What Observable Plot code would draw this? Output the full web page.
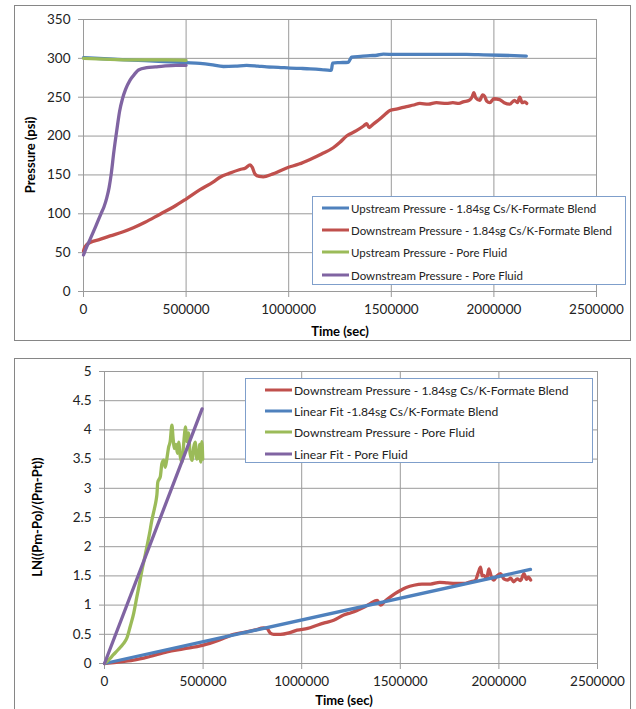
<!DOCTYPE html>
<html><head><meta charset="utf-8">
<script src="https://cdn.jsdelivr.net/npm/d3@7"></script>
<script src="https://cdn.jsdelivr.net/npm/@observablehq/plot@0.6"></script>
<style>
body{margin:0;background:#fff;font-family:Lato,"Open Sans",sans-serif;}
#wrap{position:relative;width:636px;height:709px;overflow:hidden;background:#fff}
.box{position:absolute;border:1px solid #868686;box-sizing:border-box;background:#fff}
.chart{position:absolute;}
.title{position:absolute;font-weight:bold;font-size:13px;color:#000;white-space:nowrap;transform:translate(-50%,-50%);}
.rot{transform:translate(-50%,-50%) rotate(-90deg);}
.legend{position:absolute;border:1px solid #7f9fcb;background:#fff;box-sizing:border-box}
.row{position:absolute;display:flex;align-items:center;white-space:nowrap;color:#222;transform:translateY(-50%)}
.sw{display:inline-block;width:27px;height:3px;margin-right:2px}
</style>
</head><body>
<div id="wrap">
  <div class="box" style="left:14px;top:5px;width:617px;height:336px"></div>
  <div class="box" style="left:14px;top:358px;width:617px;height:360px"></div>
  <div id="c1" class="chart" style="left:14px;top:5px"></div>
  <div id="c2" class="chart" style="left:14px;top:358px"></div>
  <div class="title" style="left:340px;top:331px">Time (sec)</div>
  <div class="title rot" style="left:30px;top:155px">Pressure (psi)</div>
  <div class="title" style="left:344px;top:700px">Time (sec)</div>
  <div class="title rot" style="left:37px;top:517px">LN((Pm-Po)/(Pm-Pt))</div>
  <div id="leg1" class="legend" style="left:312px;top:196px;width:314px;height:89px"></div>
  <div id="leg2" class="legend" style="left:245px;top:378px;width:348px;height:85px"></div>
</div>
<script>
// ---------- data: shared ticks ----------
const xTicks = [0, 500000, 1000000, 1500000, 2000000, 2500000];
const yTicksTop = [0, 50, 100, 150, 200, 250, 300, 350];
const yTicksBottom = [0, 0.5, 1, 1.5, 2, 2.5, 3, 3.5, 4, 4.5, 5];

const topNames = ["Upstream Pressure - 1.84sg Cs/K-Formate Blend","Downstream Pressure - 1.84sg Cs/K-Formate Blend","Upstream Pressure - Pore Fluid","Downstream Pressure - Pore Fluid"];
const bottomNames = ["Downstream Pressure - 1.84sg Cs/K-Formate Blend","Linear Fit -1.84sg Cs/K-Formate Blend","Downstream Pressure - Pore Fluid","Linear Fit - Pore Fluid"];
const topColors = ["#4F81BD","#C0504D","#9BBB59","#8064A2"];
const bottomColors = ["#C0504D","#4F81BD","#9BBB59","#8064A2"];

// ---------- data: top chart (time sec, pressure psi) ----------
const upstreamBlend = [[0,301],[100000,299.5],[300000,297],[500000,294.5],[568000,293.5],[620000,292],[682000,289.5],[740000,290],[795000,291],[850000,290],[893000,289],[950000,288.5],[1006000,287.5],[1060000,287],[1104000,286.5],[1160000,285.5],[1201000,284.5],[1208000,285],[1214000,294],[1250000,294.5],[1290000,295],[1300000,299],[1307000,301.5],[1350000,302.5],[1396000,303.5],[1430000,304],[1461000,305.5],[1520000,305],[1623000,305],[1750000,305],[1866000,305],[1950000,304.5],[2028000,304],[2100000,303.5],[2158000,303]];
const downstreamBlend = [[0,52],[5000,56],[15000,60],[32000,63],[80000,67],[130000,71.5],[190000,76.5],[243000,82],[300000,89],[373000,99.5],[440000,109],[500000,119],[568000,131],[633000,141],[665000,147],[710000,152],[763000,157],[790000,159],[812000,163],[822000,160],[836000,151],[856000,148],[876000,147.5],[920000,151],[990000,159],[1050000,164],[1104000,170],[1160000,177],[1217000,185],[1250000,192],[1282000,200],[1330000,207],[1365000,213],[1380000,216],[1392000,211],[1410000,215],[1444000,222],[1470000,228],[1493000,233],[1530000,235],[1574000,238],[1610000,240],[1639000,242],[1680000,241],[1720000,243],[1769000,242],[1800000,243],[1830000,242],[1850000,244],[1880000,246],[1895000,251],[1902000,256],[1912000,249],[1931000,246],[1945000,253],[1955000,251],[1965000,245],[1980000,243],[2000000,248],[2028000,247],[2050000,243],[2077000,241],[2100000,246],[2115000,243],[2126000,250],[2138000,243],[2150000,244],[2160000,242]];
const upstreamPore = [[0,300],[100000,299],[250000,298],[400000,298],[500000,297.5]];
const downstreamPore = [[0,47],[10000,54],[32000,67],[60000,84],[85000,100],[100000,109],[114000,121],[125000,134],[135000,151],[148000,180],[162000,207],[176000,232],[190000,248],[205000,260],[227000,272],[250000,280],[268000,285],[308000,288],[350000,289],[389000,290],[450000,291],[500000,291]];

// ---------- data: bottom chart (time sec, LN ratio) ----------
const lnBlend = [[0,0],[60000,0.02],[147000,0.056],[230000,0.12],[317000,0.2],[400000,0.25],[497000,0.31],[580000,0.4],[655000,0.5],[700000,0.53],[760000,0.57],[807000,0.61],[824000,0.6],[841000,0.52],[858000,0.5],[892000,0.5],[940000,0.53],[977000,0.57],[1030000,0.6],[1078000,0.655],[1120000,0.7],[1162000,0.74],[1213000,0.83],[1250000,0.87],[1281000,0.91],[1320000,0.97],[1349000,1.03],[1383000,1.08],[1400000,1.0],[1420000,1.06],[1450000,1.14],[1475000,1.2],[1500000,1.25],[1530000,1.3],[1569000,1.34],[1610000,1.36],[1653000,1.36],[1700000,1.39],[1738000,1.38],[1780000,1.37],[1822000,1.37],[1856000,1.4],[1880000,1.42],[1895000,1.55],[1907000,1.65],[1915000,1.5],[1924000,1.51],[1938000,1.45],[1949000,1.62],[1962000,1.48],[1975000,1.43],[1990000,1.5],[2009000,1.54],[2025000,1.45],[2043000,1.43],[2060000,1.46],[2075000,1.4],[2093000,1.45],[2110000,1.42],[2127000,1.54],[2140000,1.44],[2150000,1.48],[2161000,1.43]];
const fitBlend = [[0,0],[2160000,1.61]];
const lnPore = [[0,0],[20000,0.06],[45000,0.15],[70000,0.24],[96000,0.34],[115000,0.45],[130000,0.63],[148000,0.86],[164000,1.14],[178000,1.38],[190000,1.6],[203000,1.8],[215000,2.0],[228000,2.22],[240000,2.45],[253000,2.65],[262000,2.8],[266000,2.9],[270000,3.1],[276000,3.15],[283000,3.2],[291000,3.42],[300000,3.48],[308000,3.36],[316000,3.5],[325000,3.7],[333000,3.8],[342000,4.08],[348000,3.85],[354000,3.68],[362000,3.75],[370000,3.6],[376000,3.79],[384000,3.55],[393000,3.45],[400000,3.7],[405000,3.9],[410000,4.05],[418000,3.8],[426000,3.95],[434000,3.6],[444000,3.48],[452000,3.7],[460000,3.79],[468000,3.5],[477000,3.53],[483000,3.75],[488000,3.45],[494000,3.8],[498000,3.5]];
const fitPore = [[0,0],[495000,4.36]];

const gridColor = "#9a9a9a";
const fmt = d => String(d);

function lineMarks(series, colors) {
  return series.map((s, i) => Plot.line(s, {
    x: d => d[0], y: d => d[1], stroke: colors[i],
    strokeWidth: 3.3, strokeLinejoin: "round", strokeLinecap: "round",
    curve: s.length > 2 ? "monotone-x" : "linear"
  }));
}

function chart(opts, yTicks, series, colors) {
  return Plot.plot({
    ...opts,
    style: {fontFamily: "Lato, 'Open Sans', sans-serif", fontSize: "13.5px", color: "#222", background: "transparent", overflow: "visible"},
    x: {domain: [0, 2500000], ticks: xTicks, tickFormat: fmt},
    y: {domain: [yTicks[0], yTicks[yTicks.length-1]], ticks: yTicks, tickFormat: fmt},
    marks: [
      Plot.gridX(xTicks, {stroke: gridColor, strokeOpacity: 1}),
      Plot.gridY(yTicks, {stroke: gridColor, strokeOpacity: 1}),
      Plot.axisX(xTicks, {tickSize: 6, tickPadding: 7, stroke: gridColor, fill: "#222", label: null, tickFormat: fmt}),
      Plot.axisY(yTicks, {tickSize: 5, tickPadding: 8, stroke: gridColor, fill: "#222", label: null, tickFormat: fmt}),
      ...lineMarks(series, colors)
    ]
  });
}

document.getElementById("c1").append(chart(
  {width: 616, height: 335, marginLeft: 69, marginRight: 34, marginTop: 14, marginBottom: 49},
  yTicksTop, [upstreamBlend, downstreamBlend, upstreamPore, downstreamPore], topColors));

document.getElementById("c2").append(chart(
  {width: 616, height: 351, marginLeft: 90, marginRight: 33, marginTop: 13, marginBottom: 46},
  yTicksBottom, [lnBlend, fitBlend, lnPore, fitPore], bottomColors));

function legend(id, names, colors, left, top0, step, size) {
  const el = document.getElementById(id);
  names.forEach((n, i) => {
    const r = document.createElement("div");
    r.className = "row";
    r.style.left = left + "px";
    r.style.top = (top0 + i * step) + "px";
    r.style.fontSize = size + "px";
    r.innerHTML = `<span class="sw" style="background:${colors[i]}"></span><span>${n}</span>`;
    el.append(r);
  });
}
legend("leg1", topNames, topColors, 9, 11, 22.2, 11.5);
legend("leg2", bottomNames, bottomColors, 19, 11, 21.2, 12.1);
</script>
</body></html>
